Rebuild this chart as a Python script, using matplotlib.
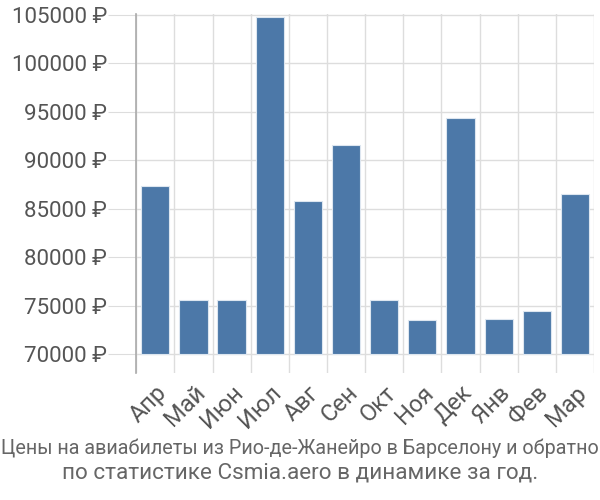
import matplotlib
matplotlib.use('Agg')
import matplotlib.pyplot as plt
import numpy as np

plt.rcParams['font.family'] = ['Roboto', 'DejaVu Sans']

# data
months = ['Апр', 'Май', 'Июн', 'Июл', 'Авг', 'Сен', 'Окт', 'Ноя', 'Дек', 'Янв', 'Фев', 'Мар']
prices = [87400, 75600, 75600, 104800, 85800, 91600, 75600, 73500, 94400, 73600, 74500, 86500]
yticks = [70000, 75000, 80000, 85000, 90000, 95000, 100000, 105000]
base = 70000

fig = plt.figure(figsize=(6, 5), dpi=100)
ax = fig.add_axes([0.227, 0.254, 0.763, 0.718])

x = np.arange(len(months))
ax.bar(x, np.array(prices) - base, bottom=base, width=0.74,
       color='#4C78A8', edgecolor='#dde6f0', linewidth=0.8, zorder=3)

ax.set_xlim(-0.5, len(months) - 0.5)
ax.set_ylim(68050, 105100)

# horizontal grid + ticks
ax.set_yticks(yticks)
ax.set_yticklabels([f'{v} ₽' for v in yticks])
ax.grid(axis='y', color='#dddddd', linewidth=1, zorder=0)
ax.tick_params(axis='y', length=20, color='#dddddd', labelsize=16, labelcolor='#555555', pad=1)

# vertical grid at category boundaries
for b in np.arange(-0.5, len(months), 1.0):
    ax.axvline(b, color='#dddddd', linewidth=1, zorder=0)

ax.set_xticks(x)
ax.set_xticklabels(months, rotation=45, ha='right', va='top', rotation_mode='anchor')
ax.tick_params(axis='x', length=0, labelsize=17, labelcolor='#555555', pad=6)

for s in ['top', 'right', 'bottom']:
    ax.spines[s].set_visible(False)
ax.spines['left'].set_color('#aaaaaa')
ax.spines['left'].set_linewidth(1.2)

fig.text(0.5, 0.104, 'Цены на авиабилеты из Рио-де-Жанейро в Барселону и обратно',
         ha='center', va='center', fontsize=14.2, color='#666666')
fig.text(0.5, 0.054, 'по статистике Csmia.aero в динамике за год.',
         ha='center', va='center', fontsize=16.2, color='#666666')

fig.savefig('out.png', dpi=100)
